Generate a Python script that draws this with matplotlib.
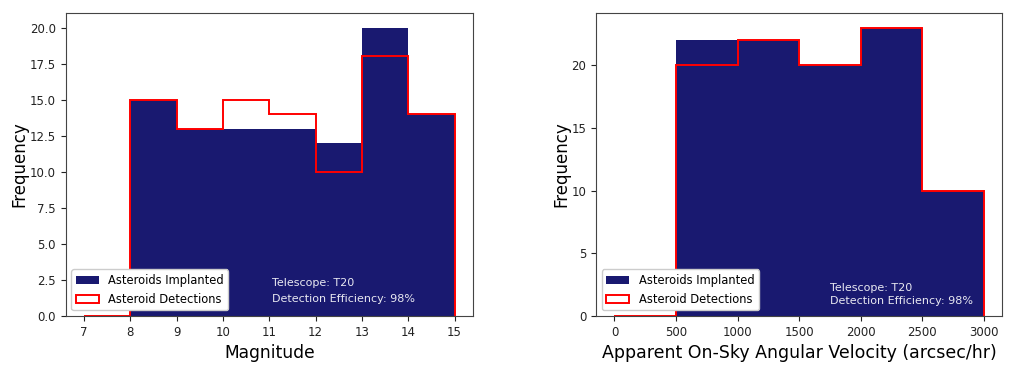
import numpy as np
import matplotlib
matplotlib.use('Agg')
import matplotlib.pyplot as plt

# --- Magnitude histogram (bin edges and counts)
mag_edges     = [7, 8, 9, 10, 11, 12, 13, 14, 15]
mag_implanted = [0, 15, 13, 13, 13, 12, 20, 14]
mag_detected  = [0, 15, 13, 15, 14, 10, 18, 14]

# --- Angular velocity histogram
vel_edges     = [0, 500, 1000, 1500, 2000, 2500, 3000]
vel_implanted = [0, 22, 22, 20, 23, 10]
vel_detected  = [0, 20, 22, 20, 23, 10]

info_text = 'Telescope: T20\nDetection Efficiency: 98%'

fig = plt.figure(figsize=(10.24, 3.75), dpi=100)
ax_mag = fig.add_axes([0.064, 0.157, 0.398, 0.808])
ax_vel = fig.add_axes([0.582, 0.157, 0.397, 0.808])


def draw_hist(ax, edges, implanted, detected):
    centers = 0.5 * (np.array(edges[:-1]) + np.array(edges[1:]))
    ax.hist(centers, bins=edges, weights=implanted, color='midnightblue',
            label='Asteroids Implanted')
    ax.hist(centers, bins=edges, weights=detected, histtype='step',
            color='red', linewidth=1.4, label='Asteroid Detections')
    ax.legend(loc='lower left', fontsize=8.3, framealpha=1.0)
    ax.set_ylabel('Frequency', fontsize=12, labelpad=1)
    ax.tick_params(labelsize=8.5, colors='#222222')
    for sp in ax.spines.values():
        sp.set_color('#444444')


draw_hist(ax_mag, mag_edges, mag_implanted, mag_detected)
ax_mag.set_xlabel('Magnitude', fontsize=12.3)
ax_mag.set_xticks(mag_edges)
ax_mag.text(11.05, 1.0, info_text, color='white', fontsize=8, alpha=0.9,
            linespacing=1.7)

draw_hist(ax_vel, vel_edges, vel_implanted, vel_detected)
ax_vel.set_xlabel('Apparent On-Sky Angular Velocity (arcsec/hr)', fontsize=12.5)
ax_vel.set_xticks(vel_edges)
ax_vel.set_yticks([0, 5, 10, 15, 20])
ax_vel.text(1750, 1.0, info_text, color='white', fontsize=8, alpha=0.9,
            linespacing=1.35)

fig.savefig('out.png', dpi=100)
